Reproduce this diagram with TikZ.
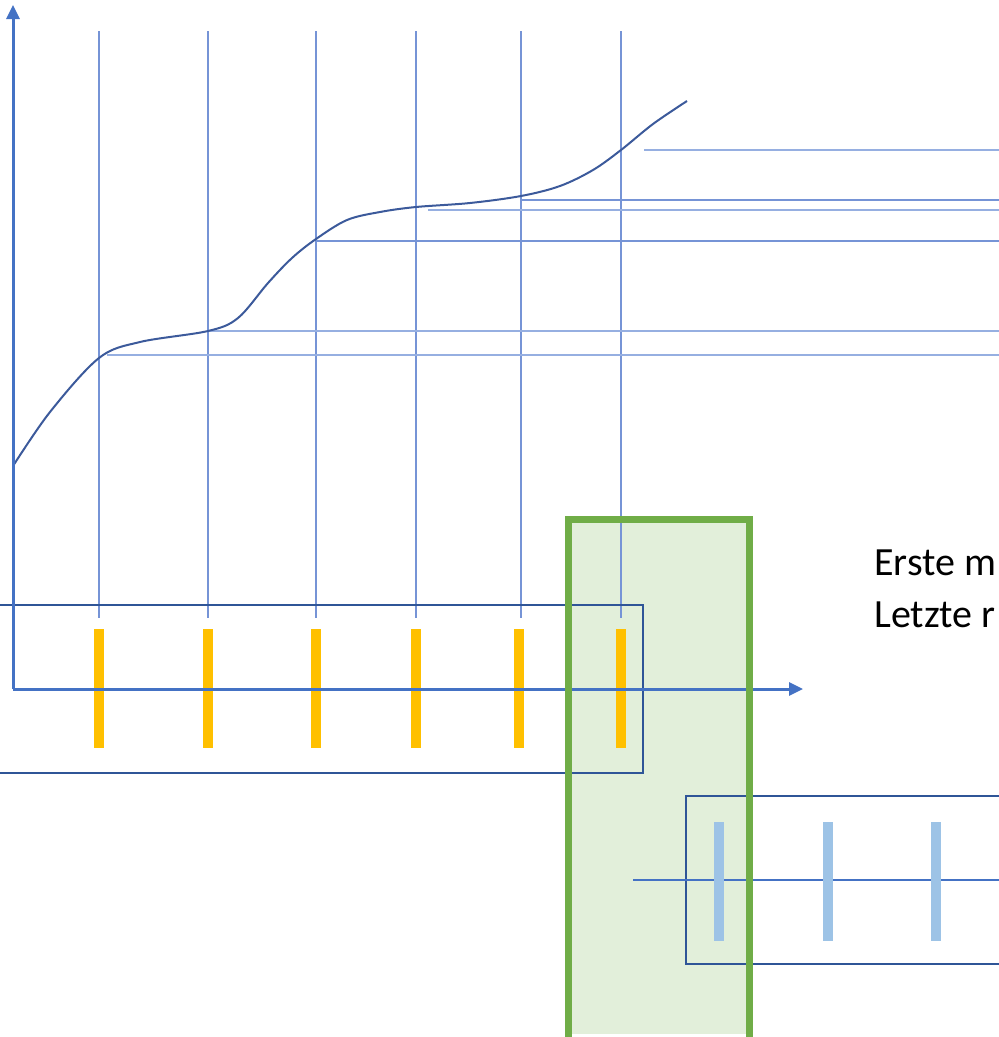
\documentclass[tikz,border=0pt]{standalone}
\usepackage{fontspec}
\setmainfont{Carlito}
\usetikzlibrary{arrows.meta}
\definecolor{axisblue}{RGB}{68,114,196}
\definecolor{gridblue}{RGB}{118,148,214}
\definecolor{lightgrid}{RGB}{150,175,225}
\definecolor{darkblue}{RGB}{47,85,151}
\definecolor{curveblue}{RGB}{60,90,155}
\definecolor{tickyellow}{RGB}{255,192,0}
\definecolor{ticklight}{RGB}{157,195,230}
\definecolor{greenline}{RGB}{112,173,71}
\definecolor{greenfill}{RGB}{226,239,218}
\tikzset{
  axisline/.style={axisblue, line width=3pt, -{Triangle[length=14pt,width=13pt]}},
  gridline/.style={gridblue, line width=1.4pt},
  levelline/.style={gridblue, line width=1.4pt},
  levellight/.style={lightgrid, line width=2pt},
  framebox/.style={darkblue, line width=2pt},
  ytick/.style={tickyellow, line width=10pt},
  btick/.style={ticklight, line width=10pt},
  curve/.style={curveblue, line width=2pt},
  greenbox/.style={greenline, line width=7pt},
  label/.style={anchor=base west, inner sep=0pt, font=\fontsize{40}{52}\selectfont}
}
\begin{document}
\begin{tikzpicture}[x=1pt,y=-1pt]
\useasboundingbox (0,0) rectangle (999,1037);
\clip (0,0) rectangle (999,1037);
% green box fill (background)
\fill[greenfill] (568,519) rectangle (749,1034);
% coordinates
\coordinate (O) at (13,689);
\coordinate (ytop) at (13,5);
\coordinate (xend) at (803,689);
% vertical grid lines
\foreach \x in {99,208,316,416,521,621}{
  \draw[gridline] (\x,31) -- (\x,618);
}
% horizontal level lines
\draw[levellight] (644,150) -- (999,150);
\draw[levelline] (521,200) -- (999,200);
\draw[levellight] (428,210) -- (999,210);
\draw[levelline] (316,241) -- (999,241);
\draw[levellight] (208,331) -- (999,331);
\draw[levellight] (107,355) -- (999,355);
% curve
\draw[curve] plot[smooth, tension=0.55] coordinates {
  (13,466) (50,412) (99,358) (140,342) (208,331) (238,318) (268,283)
  (292,258) (316,239) (347,220) (380,212) (416,207) (470,203) (521,196)
  (560,186) (593,170) (621,150) (653,124) (687,101)};
% upper frame
\draw[framebox] (0,605) -- (643,605) -- (643,773) -- (0,773);
% yellow ticks
\foreach \x in {99,208,316,416,519,621}{
  \draw[ytick] (\x,629) -- (\x,748);
}
% axes
\draw[axisline] (O) -- (ytop);
\draw[axisline] (O) -- (xend);
% lower frame and axis
\draw[framebox] (999,796) -- (686,796) -- (686,964) -- (999,964);
\coordinate (la) at (633,880);
\coordinate (lb) at (999,880);
\draw[axisblue, line width=2.5pt] (la) -- (lb);
\foreach \x in {719,828,936}{
  \draw[btick] (\x,822) -- (\x,941);
}
% green border
\draw[greenbox] (568,1040) -- (568,519) -- (749,519) -- (749,1040);
% text
\node[label] (t1) at (874,575) {Erste m};
\node[label] (t2) at (874,627) {Letzte r};
\end{tikzpicture}
\end{document}
